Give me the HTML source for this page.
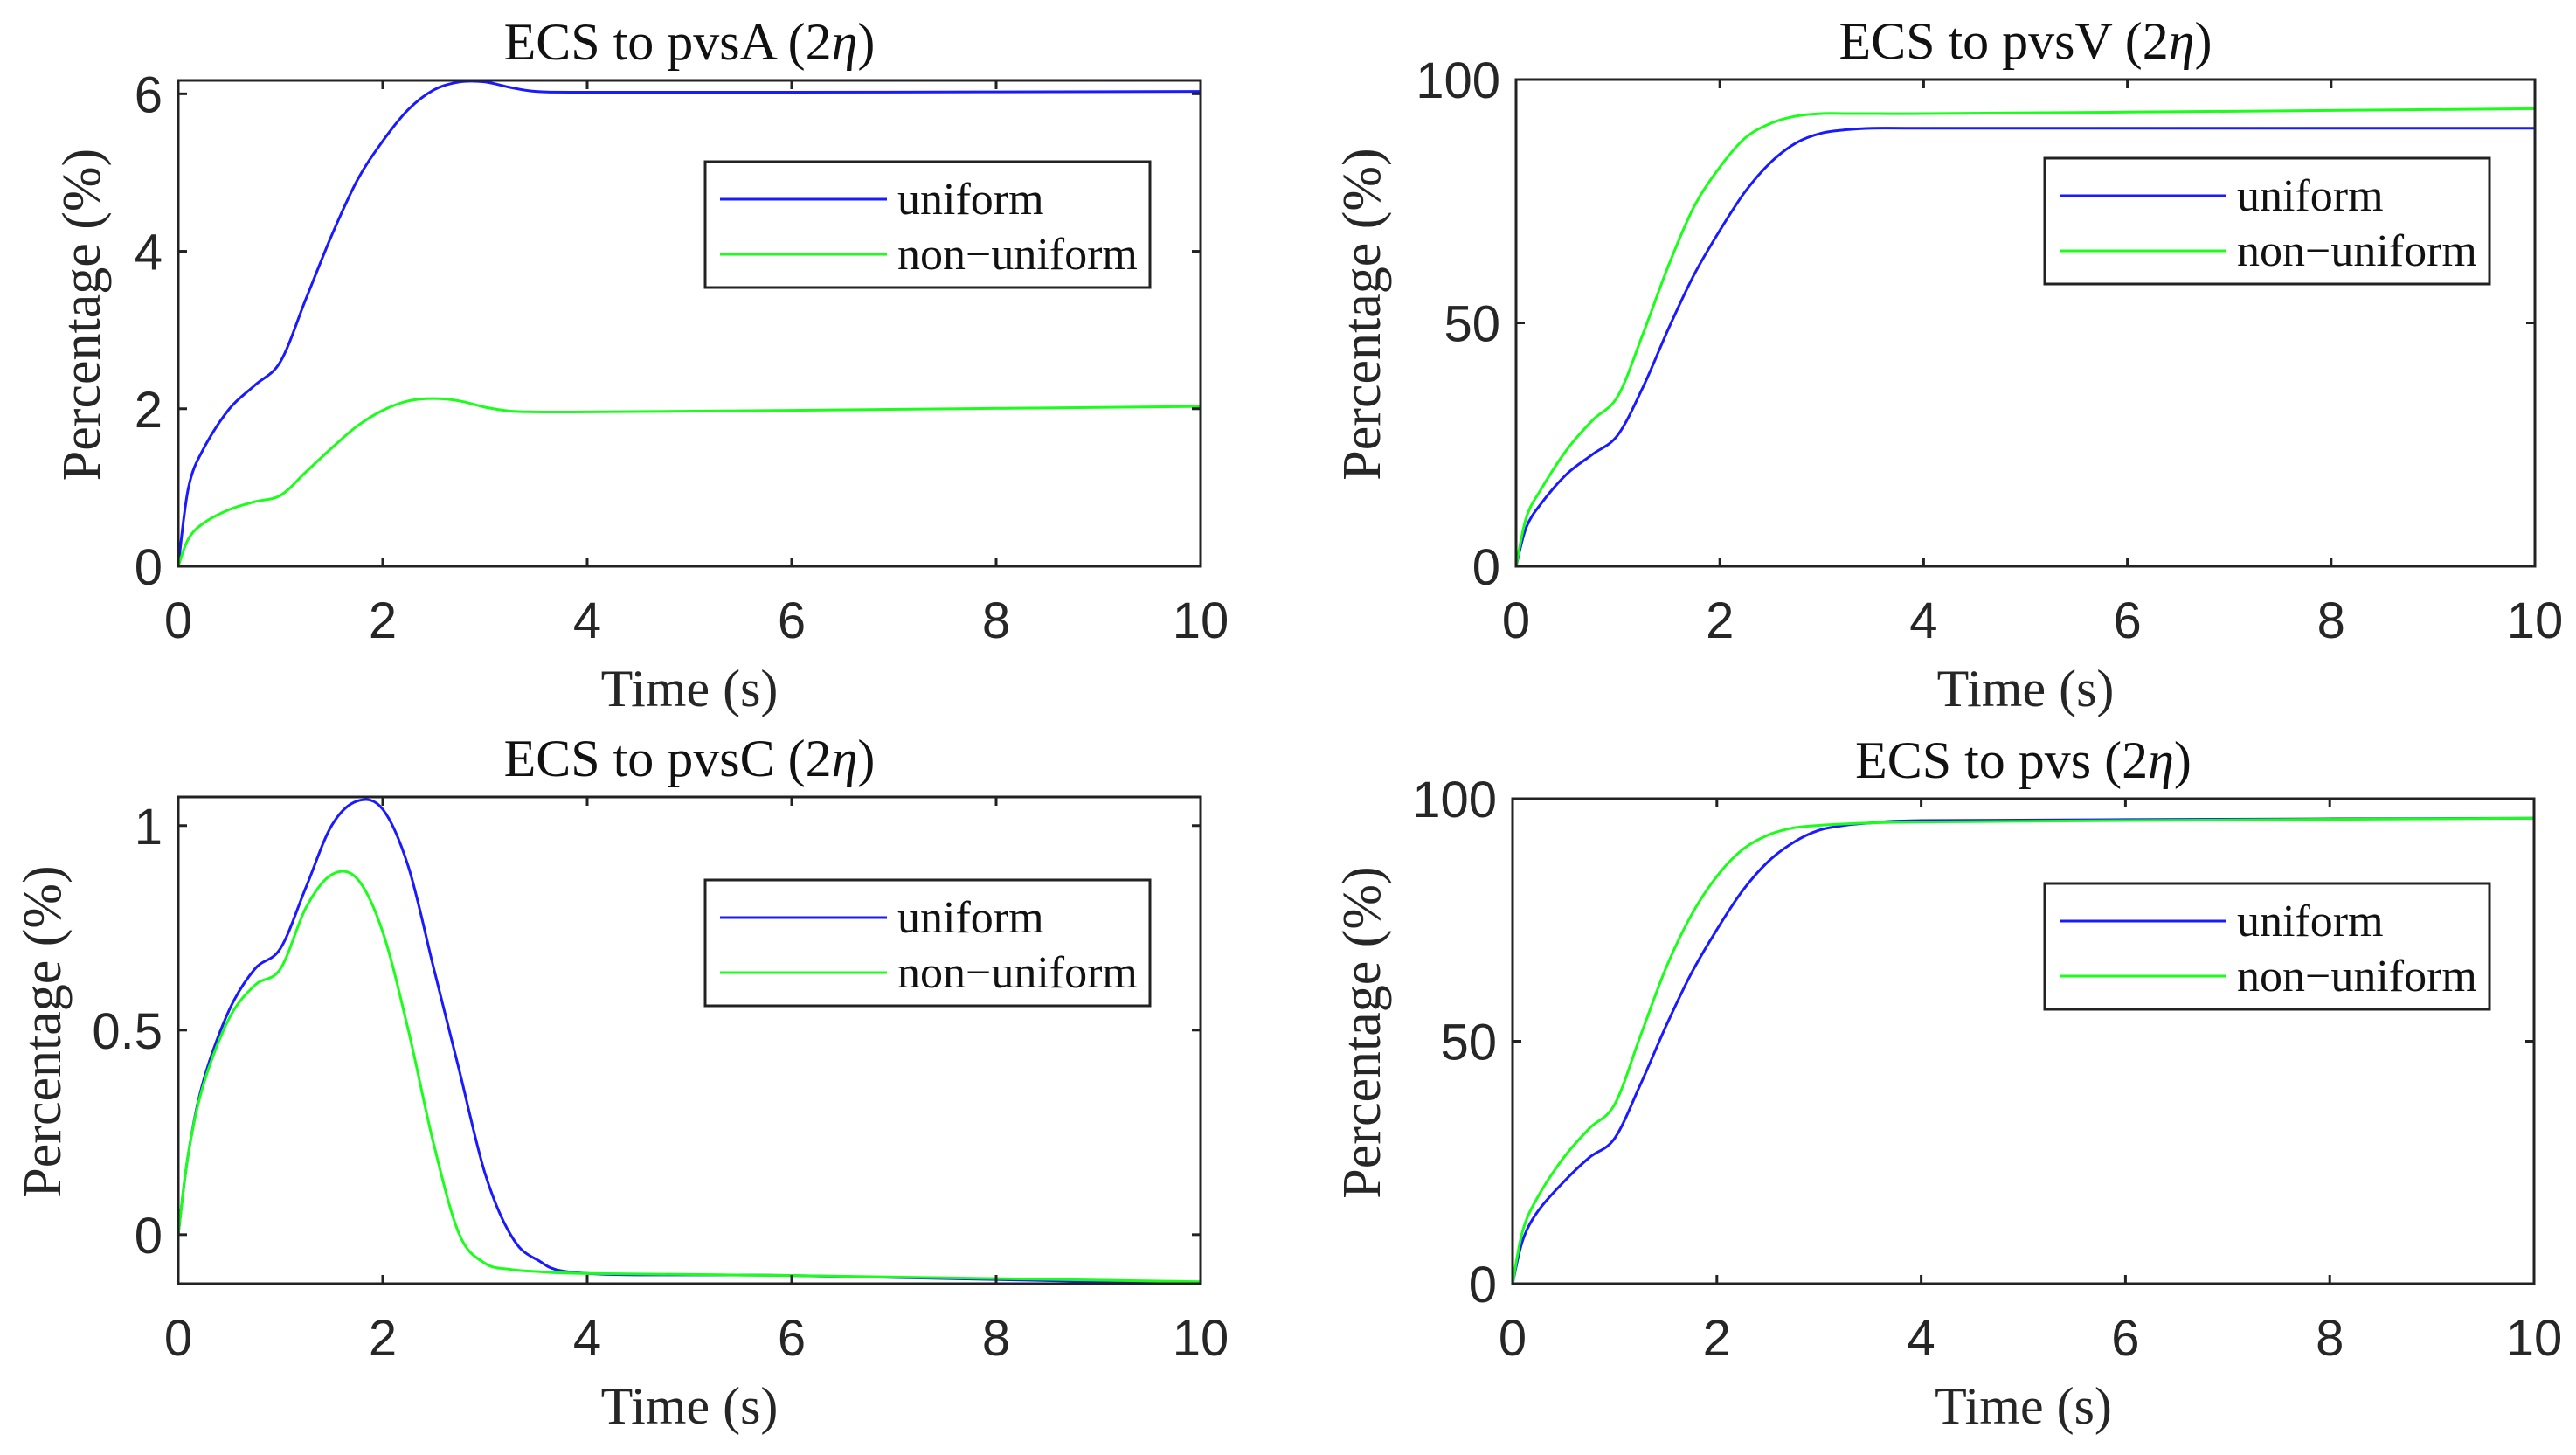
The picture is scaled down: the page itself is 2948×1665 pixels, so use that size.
<!DOCTYPE html>
<html><head><meta charset="utf-8"><style>
html,body{margin:0;padding:0;background:#fff;}
svg{display:block;font-family:"Liberation Serif",serif;}
</style></head><body>
<svg id="fig" width="2948" height="1665" viewBox="0 0 2948 1665" xmlns="http://www.w3.org/2000/svg"></svg>
<script>
const times = [0,0.1,0.25,0.5,0.75,1,1.25,1.5,1.75,2,2.25,2.5,2.75,3,3.25,3.5,4,6,10];
const pvsAUniform = [0,1.0,1.5,2.0,2.3,2.6,3.4,4.2,4.9,5.4,5.8,6.05,6.15,6.15,6.08,6.03,6.02,6.02,6.03];
const pvsANonUniform = [0,0.35,0.55,0.72,0.82,0.9,1.2,1.5,1.78,1.98,2.1,2.13,2.1,2.02,1.97,1.96,1.96,1.98,2.03];
const pvsVUniform = [0,8,13,19,23,27,37,49,60,69,77,83,87,89,89.7,90,90,90,90];
const pvsVNonUniform = [0,10,16,24,30,35,48,62,74,82,88,91,92.5,93,93,93,93,93.3,94];
const pvsCUniform = [0,0.2,0.38,0.55,0.65,0.7,0.85,1.0,1.06,1.04,0.9,0.65,0.4,0.15,0.0,-0.06,-0.095,-0.1,-0.12];
const pvsCNonUniform = [0,0.2,0.37,0.53,0.61,0.65,0.8,0.88,0.87,0.74,0.5,0.22,0.0,-0.07,-0.085,-0.09,-0.095,-0.1,-0.115];
const pvsUniform = [0,9,15,21,26,30,41,53,64,73,81,87,91,93.5,94.5,95,95.5,95.7,96];
const pvsNonUniform = [0,11,18,26,32,37,51,65,76,84,89.5,92.5,94,94.5,94.8,95,95.2,95.5,96];
const xTicks = [0,2,4,6,8,10];
const ticksA = [0,2,4,6];
const ticksV = [0,50,100];
const ticksC = [0,0.5,1];
const ticksC_labels = ["0","0.5","1"];

const NS="http://www.w3.org/2000/svg";
const svg=document.getElementById('fig');
function mk(tag,attrs,parent){const e=document.createElementNS(NS,tag);for(const k in attrs)e.setAttribute(k,attrs[k]);(parent||svg).appendChild(e);return e;}
const SANS='"Liberation Sans",sans-serif';

const panels=[
 {id:'pvsa',title:'ECS to pvsA (2',x0:204,x1:1374,y0:92,y1:648,ymin:0,ymax:6.17,yt:ticksA,yl:ticksA.map(String),u:pvsAUniform,n:pvsANonUniform,lg:[807,185],ylx:100},
 {id:'pvsv',title:'ECS to pvsV (2',x0:1735,x1:2901,y0:91,y1:648,ymin:0,ymax:100,yt:ticksV,yl:ticksV.map(String),u:pvsVUniform,n:pvsVNonUniform,lg:[2340,181],ylx:1565},
 {id:'pvsc',title:'ECS to pvsC (2',x0:204,x1:1374,y0:912,y1:1469,ymin:-0.12,ymax:1.07,yt:ticksC,yl:ticksC_labels,u:pvsCUniform,n:pvsCNonUniform,lg:[807,1007],ylx:55},
 {id:'pvs',title:'ECS to pvs (2',x0:1731,x1:2900,y0:914,y1:1469,ymin:0,ymax:100,yt:ticksV,yl:ticksV.map(String),u:pvsUniform,n:pvsNonUniform,lg:[2340,1011],ylx:1565}
];

function smoothPath(pts){
  let d='M'+pts[0][0].toFixed(1)+','+pts[0][1].toFixed(1);
  for(let i=0;i<pts.length-1;i++){
    const p0=pts[Math.max(0,i-1)],p1=pts[i],p2=pts[i+1],p3=pts[Math.min(pts.length-1,i+2)];
    const c1=[p1[0]+(p2[0]-p0[0])/6,p1[1]+(p2[1]-p0[1])/6];
    const c2=[p2[0]-(p3[0]-p1[0])/6,p2[1]-(p3[1]-p1[1])/6];
    d+='C'+c1[0].toFixed(1)+','+c1[1].toFixed(1)+' '+c2[0].toFixed(1)+','+c2[1].toFixed(1)+' '+p2[0].toFixed(1)+','+p2[1].toFixed(1);
  }
  return d;
}

panels.forEach(p=>{
  const g=mk('g',{});
  
  
  const sx=v=>p.x0+(v-0)/(10-0)*(p.x1-p.x0);
  const sy=v=>p.y1-(v-p.ymin)/(p.ymax-p.ymin)*(p.y1-p.y0);
  const draw=(arr,color,name)=>{
    const pts=arr.map((v,i)=>[sx(times[i]),sy(v)]);
    const pth=mk('path',{d:smoothPath(pts),fill:'none',stroke:color,'stroke-width':3,'stroke-linejoin':'round'},g);
    
    
  };
  draw(p.u,'#1a1aff',p.id+'-uniform-line');
  draw(p.n,'#1aff1a',p.id+'-nonuniform-line');
  const box=mk('rect',{x:p.x0,y:p.y0,width:p.x1-p.x0,height:p.y1-p.y0,fill:'none',stroke:'#222','stroke-width':3},g);
  
  
  xTicks.forEach(t=>{
    const x=sx(t);
    mk('line',{x1:x,x2:x,y1:p.y1,y2:p.y1-10,stroke:'#222','stroke-width':3},g);
    mk('line',{x1:x,x2:x,y1:p.y0,y2:p.y0+10,stroke:'#222','stroke-width':3},g);
    const tx=mk('text',{x:x,y:p.y1+82,'font-size':58,'font-family':SANS,'text-anchor':'middle',fill:'#262626'},g);
    tx.textContent=String(t);
    
    
  });
  p.yt.forEach((t,i)=>{
    const y=sy(t);
    mk('line',{x1:p.x0,x2:p.x0+10,y1:y,y2:y,stroke:'#222','stroke-width':3},g);
    mk('line',{x1:p.x1,x2:p.x1-10,y1:y,y2:y,stroke:'#222','stroke-width':3},g);
    const ty=mk('text',{x:p.x0-18,y:y+21,'font-size':58,'font-family':SANS,'text-anchor':'end',fill:'#262626'},g);
    ty.textContent=p.yl[i];
    
    
  });
  const cx=(p.x0+p.x1)/2;
  const tt=mk('text',{x:cx,y:p.y0-24,'font-size':60,'text-anchor':'middle',fill:'#111'},g);
  tt.innerHTML=p.title+'<tspan font-style="italic">η</tspan>)';
  
  
  const xl=mk('text',{x:cx,y:p.y1+160,'font-size':60,'text-anchor':'middle',fill:'#262626'},g);
  xl.textContent='Time (s)';
  
  
  const cy=(p.y0+p.y1)/2-10;
  const yl=mk('text',{x:p.ylx,y:cy,'font-size':62,'text-anchor':'middle',fill:'#262626',transform:'rotate(-90 '+p.ylx+' '+cy+')','dominant-baseline':'middle'},g);
  yl.textContent='Percentage (%)';
  
  
  const [lx,ly]=p.lg;
  const lgG=mk('g',{},g);
  
  
  mk('rect',{x:lx,y:ly,width:509,height:144,fill:'#fff',stroke:'#222','stroke-width':3},lgG);
  [['uniform','#1a1aff',43],['non\u2212uniform','#1aff1a',106]].forEach(e=>{
    const eg=mk('g',{},lgG);
    
    
    mk('line',{x1:lx+17,x2:lx+208,y1:ly+e[2],y2:ly+e[2],stroke:e[1],'stroke-width':3},eg);
    const t=mk('text',{x:lx+220,y:ly+e[2]+17,'font-size':52,fill:'#111'},eg);
    t.textContent=e[0];
  });
});
</script>
</body></html>
